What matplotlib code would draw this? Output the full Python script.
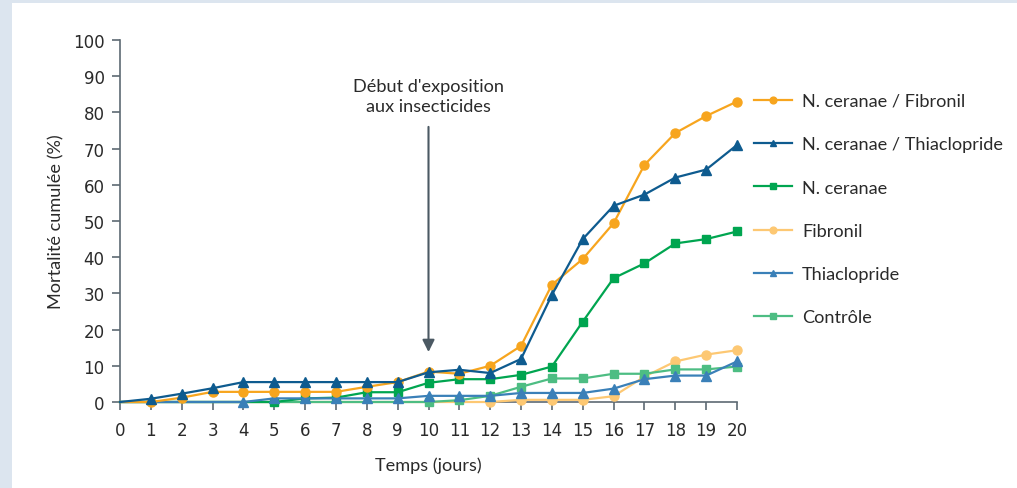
import matplotlib
matplotlib.use("Agg")
import matplotlib.pyplot as plt
from matplotlib.patches import Rectangle

plt.rcParams['font.family'] = ['Lato', 'DejaVu Sans']

days = list(range(0, 21))
x_ticks = list(range(0, 21))
y_ticks = list(range(0, 101, 10))

labels = ["N. ceranae / Fibronil", "N. ceranae / Thiaclopride", "N. ceranae",
          "Fibronil", "Thiaclopride", "Contrôle"]

nc_fibronil = [0, 0, 1.2, 2.8, 2.8, 2.8, 2.8, 2.8, 4.2, 5.5, 8.4, 7.8, 10.0, 15.5,
               32.4, 39.5, 49.4, 65.5, 74.3, 79.0, 83.0]
nc_thia = [0, 0.9, 2.3, 3.8, 5.5, 5.5, 5.5, 5.5, 5.5, 5.5, 8.2, 8.9, 8.0, 11.9,
           29.6, 45.0, 54.2, 57.3, 62.0, 64.2, 71.0]
nceranae = [0, 0, 0, 0, 0, 0, 1.0, 1.2, 2.7, 2.7, 5.3, 6.3, 6.3, 7.5,
            9.8, 22.2, 34.2, 38.3, 43.8, 45.0, 47.1]
fibronil = [0, 0, 0, 0, 0, 0, 0, 0, 0, 0, 0, 0, 0, 0.6,
            0.6, 0.6, 1.6, 7.0, 11.2, 13.1, 14.3]
thiaclopride = [0, 0, 0, 0, 0, 1.0, 1.0, 1.0, 1.0, 1.0, 1.7, 1.7, 1.7, 2.5,
                2.5, 2.5, 3.7, 6.3, 7.3, 7.3, 11.2]
controle = [0, 0, 0, 0, 0, 0, 0, 0, 0, 0, 0, 0.5, 1.7, 4.2,
            6.5, 6.5, 7.8, 7.8, 9.0, 9.0, 9.8]

series = [nc_fibronil, nc_thia, nceranae, fibronil, thiaclopride, controle]
colors = ["#f7a51e", "#0e5b8f", "#00a550", "#fdc873", "#3a80b8", "#4dbd83"]
markers = ["o", "^", "s", "o", "^", "s"]
msizes = [6.5, 6.5, 6, 6.5, 6.5, 6]
mark_start = [1, 1, 5, 12, 4, 10]
zorders = [5, 6, 3, 1, 4, 2]

TXT = 13.1
TXT_COLOR = "#2a2a2a"

fig = plt.figure(figsize=(10.17, 4.89), dpi=100)
fig.patch.set_facecolor("#dce5ef")
bg = Rectangle((12 / 1017, 0), 1 - 12 / 1017, 1 - 4 / 489,
               transform=fig.transFigure, facecolor="white",
               edgecolor="none", zorder=-10)
fig.add_artist(bg)

ax = fig.add_axes([120 / 1017, 86 / 489, 617 / 1017, 362 / 489])
ax.set_facecolor("none")
ax.set_zorder(5)

handles = []
for vals, lab, c, m, ms, st, z in zip(series, labels, colors, markers, msizes, mark_start, zorders):
    h, = ax.plot(days, vals, color=c, marker=m, markersize=ms, linewidth=1.6,
                 markevery=list(range(st, len(days))), clip_on=False, zorder=z + 2,
                 label=lab)
    handles.append(h)

ax.set_xlim(0, 20)
ax.set_ylim(0, 100)
ax.set_xticks(x_ticks)
ax.set_yticks(y_ticks)
for s in ["top", "right"]:
    ax.spines[s].set_visible(False)
for s in ["left", "bottom"]:
    ax.spines[s].set_color("#5d6a73")
    ax.spines[s].set_linewidth(1.2)
ax.tick_params(axis="both", colors="#5d6a73", labelcolor=TXT_COLOR,
               length=6, width=1.2, direction="out", labelsize=12,
               labelfontfamily="DejaVu Sans")
ax.tick_params(axis="x", pad=8)
ax.tick_params(axis="y", pad=5)

ax.set_xlabel("Temps (jours)", fontsize=TXT, color=TXT_COLOR, labelpad=12)
ax.set_ylabel("Mortalité cumulée (%)", fontsize=TXT, color=TXT_COLOR, labelpad=6)

ax.annotate("", xy=(10, 13.8), xytext=(10, 76),
            arrowprops=dict(arrowstyle="-|>", color="#4b5963", lw=1.5,
                            mutation_scale=18, shrinkA=0, shrinkB=0))
ax.text(10, 84.5, "Début d'exposition\naux insecticides", ha="center", va="center",
        fontsize=TXT, color=TXT_COLOR, linespacing=1.25)

leg = ax.legend(handles=handles, loc="upper left",
                bbox_to_anchor=(754 / 1017, 1 - 94 / 489), bbox_transform=fig.transFigure,
                frameon=False, fontsize=TXT, labelspacing=1.5, handlelength=2.1,
                handletextpad=0.55, borderpad=0, borderaxespad=0, markerscale=0.75)
for t in leg.get_texts():
    t.set_color(TXT_COLOR)

fig.savefig("out.png", dpi=100, facecolor=fig.get_facecolor())
